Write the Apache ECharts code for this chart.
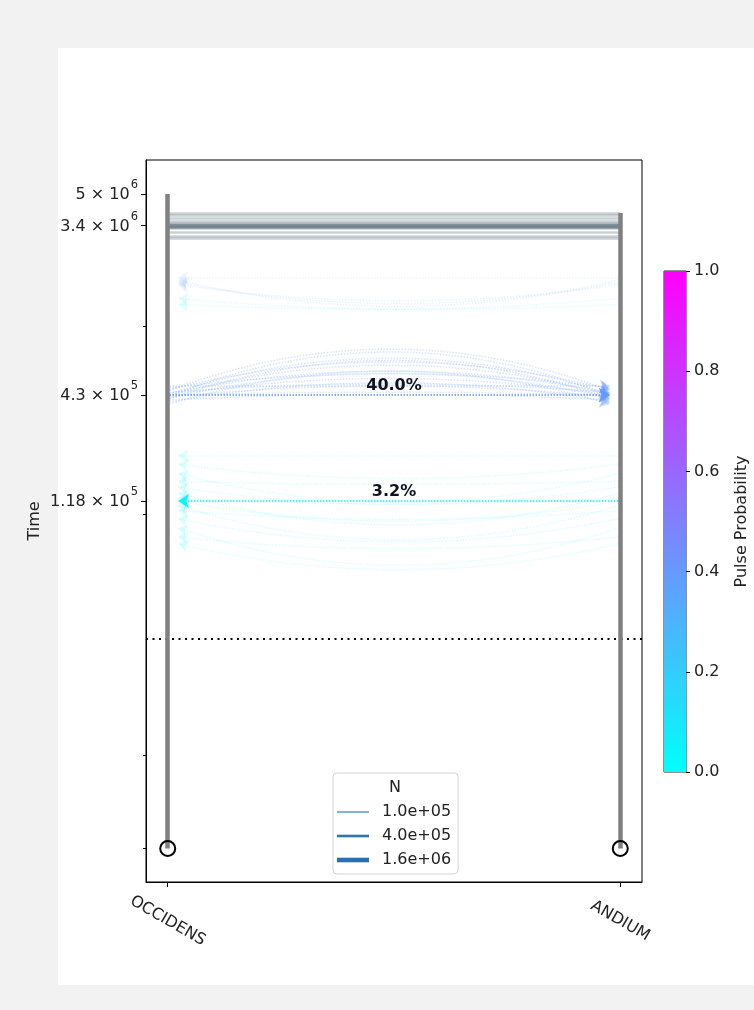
<!DOCTYPE html>
<html><head><meta charset="utf-8">
<script src="https://cdn.jsdelivr.net/npm/echarts@6/dist/echarts.min.js"></script>
<style>
html,body{margin:0;padding:0;background:#f2f2f2;}
#panel{position:absolute;left:58px;top:48px;width:696px;height:937px;background:#ffffff;}
#chart{position:absolute;left:0;top:0;width:754px;height:1010px;}
</style></head><body>
<div id="panel"></div><div id="chart"></div>
<script>
// ---------------- data ----------------
const populations = ['OCCIDENS', 'ANDIUM'];
const popStartTime = [5.0e6, 3.96e6];
const popSampleTime = [1.7e3, 1.7e3];
// posterior samples of the split (ANDIUM branching from OCCIDENS)
const splitTimes = [3.96e6, 3.85e6, 3.7e6, 3.58e6, 3.5e6, 3.45e6, 3.42e6, 3.4e6, 3.38e6, 3.35e6, 3.32e6, 3.28e6, 3.15e6, 3.0e6, 2.92e6];
// summary pulses
const pulseTimes = [4.3e5, 1.18e5];
const pulseProps = [0.400, 0.032];
const pulseSource = [0, 1];
const pulseDest = [1, 0];
// posterior samples of pulses (set A: OCCIDENS -> ANDIUM)
const pulseA_times = [4.8e5, 4.7e5, 4.6e5, 4.55e5, 4.45e5, 4.4e5, 4.35e5, 4.3e5, 4.3e5, 4.28e5, 4.25e5, 4.2e5, 4.15e5, 4.1e5, 4.05e5, 3.95e5, 3.85e5];
const pulseA_props = [0.42, 0.38, 0.44, 0.40, 0.36, 0.41, 0.39, 0.40, 0.43, 0.41, 0.37, 0.45, 0.35, 0.39, 0.40, 0.38, 0.42];
// set B: ANDIUM -> OCCIDENS
const pulseB_times = [2.05e5, 1.85e5, 1.65e5, 1.5e5, 1.4e5, 1.3e5, 1.22e5, 1.18e5, 1.12e5, 1.05e5, 9.5e4, 8.5e4, 7.6e4, 7.0e4];
const pulseB_props = [0.05, 0.08, 0.03, 0.06, 0.10, 0.04, 0.02, 0.03, 0.07, 0.05, 0.09, 0.04, 0.06, 0.03];
// set C: ANDIUM -> OCCIDENS (older)
const pulseC_times = [1.8e6, 1.75e6, 1.7e6, 1.65e6, 1.4e6, 1.3e6];
const pulseC_props = [0.42, 0.36, 0.40, 0.33, 0.12, 0.08];
const markerTime = 2.19e4;
// axis ticks
const yTickTimes = [5e6, 3.4e6, 4.3e5, 1.18e5];
const yTickMantissa = ['5', '3.4', '4.3', '1.18'];
const yTickExponent = ['6', '6', '5', '5'];
const yMinorTickTimes = [1e6, 1e5, 5.3e3, 1.7e3];
const yRangeTimes = [1130, 7.57e6];
const legendTitle = 'N';
const legendSizes = ['1.0e+05', '4.0e+05', '1.6e+06'];
const colorbarTitle = 'Pulse Probability';

// ---------------- build ----------------
const L = Math.log10;
const FONT = 'DejaVu Sans';
const X_MIN = -0.048, X_MAX = 1.048;
const INSET = 0.023;
function cool(p) {
  return 'rgb(' + Math.round(255 * p) + ',' + Math.round(255 * (1 - p)) + ',255)';
}
function pulseItem(src, dst, t, p, curv, opacity, width) {
  const dir = dst > src ? 1 : -1;
  return {
    coords: [[src + dir * 0.004, L(t)], [dst - dir * INSET, L(t)]],
    lineStyle: { color: cool(p), opacity: opacity, curveness: curv, width: width, type: [1.5, 1.5] }
  };
}
const sampleData = [];
function addSet(times, props, src, dst, maxC, opacity) {
  const n = times.length;
  times.forEach(function (t, i) {
    const c = maxC * ((i * 5) % n) / (n - 1);
    sampleData.push(pulseItem(src, dst, t, props[i], c, opacity, 1.5));
  });
}
addSet(pulseA_times, pulseA_props, 0, 1, 0.2, 0.25);
addSet(pulseB_times, pulseB_props, 1, 0, 0.17, 0.15);
addSet(pulseC_times, pulseC_props, 1, 0, 0.12, 0.12);

const mainData = pulseTimes.map(function (t, i) {
  return pulseItem(pulseSource[i], pulseDest[i], t, pulseProps[i], 0, 1, 1.6);
});
const splitData = splitTimes.map(function (t) {
  return { coords: [[0, L(t)], [1, L(t)]] };
});
const popData = populations.map(function (p, i) {
  return { coords: [[i, L(popStartTime[i])], [i, L(popSampleTime[i])]] };
});

const yTickVals = yTickTimes.map(L);
const chart = echarts.init(document.getElementById('chart'));
const legendWidths = [1.2, 2.6, 4.6];

const option = {
  animation: false,
  textStyle: { fontFamily: FONT },
  grid: [
    { left: 146, top: 160, width: 496, height: 722, show: true, borderColor: '#000', borderWidth: 1, backgroundColor: 'transparent' },
    { left: 664, top: 271, width: 22, height: 501, show: true, borderColor: '#222', borderWidth: 1, backgroundColor: 'transparent' }
  ],
  xAxis: [
    {
      type: 'value', gridIndex: 0, min: X_MIN, max: X_MAX,
      axisLine: { show: true, onZero: false, lineStyle: { color: '#000', width: 1 } },
      axisTick: { show: true, customValues: [0, 1], length: 5, lineStyle: { color: '#000' } },
      axisLabel: {
        customValues: [0, 1], formatter: function (v) { return populations[Math.round(v)]; },
        rotate: -30, align: 'center', verticalAlign: 'middle', margin: 39,
        fontSize: 16, fontFamily: FONT, color: '#222'
      },
      splitLine: { show: false }
    },
    { type: 'category', gridIndex: 1, data: ['cb'], show: false }
  ],
  yAxis: [
    {
      type: 'value', gridIndex: 0, min: L(yRangeTimes[0]), max: L(yRangeTimes[1]), position: 'left',
      axisLine: { show: true, onZero: false, lineStyle: { color: '#000', width: 1 } },
      axisTick: { show: true, customValues: yTickVals, length: 5, lineStyle: { color: '#000' } },
      axisLabel: {
        customValues: yTickVals,
        formatter: function (v) {
          for (let i = 0; i < yTickVals.length; i++) {
            if (Math.abs(yTickVals[i] - v) < 1e-6) return '{b|' + yTickMantissa[i] + ' × 10}{s|' + yTickExponent[i] + '}';
          }
          return '';
        },
        rich: {
          b: { fontSize: 16, fontFamily: FONT, color: '#222', lineHeight: 24, verticalAlign: 'bottom' },
          s: { fontSize: 11.5, fontFamily: FONT, color: '#222', lineHeight: 14, verticalAlign: 'top', padding: [0, 0, 0, 1] }
        },
        padding: [0, 0, 6, 0],
        fontSize: 16, fontFamily: FONT, color: '#222', margin: 8
      },
      splitLine: { show: false },
      name: 'Time', nameLocation: 'middle', nameGap: 103, nameMoveOverlap: false,
      nameTextStyle: { fontSize: 16, fontFamily: FONT, color: '#222' }
    },
    {
      type: 'value', gridIndex: 0, min: L(yRangeTimes[0]), max: L(yRangeTimes[1]), position: 'left',
      axisLine: { show: false, onZero: false },
      axisTick: { show: true, customValues: yMinorTickTimes.map(L), length: 3, lineStyle: { color: '#000' } },
      axisLabel: { show: false },
      splitLine: { show: false }
    },
    {
      type: 'value', gridIndex: 1, min: 0, max: 1, interval: 0.2, position: 'right',
      axisLine: { show: false },
      axisTick: { show: true, length: 4, lineStyle: { color: '#000' } },
      axisLabel: { formatter: function (v) { return v.toFixed(1); }, fontSize: 16, fontFamily: FONT, color: '#222', margin: 8 },
      splitLine: { show: false },
      name: colorbarTitle, nameLocation: 'middle', nameGap: 48,
      nameTextStyle: { fontSize: 16, fontFamily: FONT, color: '#222' }
    }
  ],
  legend: {
    orient: 'vertical', left: 333, top: 773,
    padding: [31, 7, 6, 4],
    backgroundColor: 'rgba(255,255,255,0.85)', borderColor: '#d4d4d4', borderWidth: 1, borderRadius: 4,
    itemWidth: 32, itemHeight: 16, itemGap: 8,
    selectedMode: false,
    textStyle: { fontFamily: FONT, fontSize: 16, color: '#222', padding: [0, 0, 0, 8] },
    itemStyle: { borderWidth: 0 },
    data: legendSizes.map(function (n, i) {
      return { name: n, icon: 'path://M0,0h32v' + legendWidths[i] + 'h-32z' };
    })
  },
  graphic: [
    { type: 'text', x: 395, y: 788, z: 100,
      style: { text: legendTitle, font: '16px "DejaVu Sans"', fill: '#222', align: 'center', verticalAlign: 'middle', textAlign: 'center', textVerticalAlign: 'middle' } }
  ],
  series: [
    {
      name: 'pulse samples', type: 'lines', coordinateSystem: 'cartesian2d', xAxisIndex: 0, yAxisIndex: 0,
      symbol: ['none', 'arrow'], symbolSize: 10, z: 2, silent: true,
      data: sampleData
    },
    {
      name: 'splits', type: 'lines', coordinateSystem: 'cartesian2d', xAxisIndex: 0, yAxisIndex: 0,
      z: 3, silent: true,
      lineStyle: { color: '#34485a', width: 2.5, opacity: 0.26, curveness: 0 },
      data: splitData
    },
    {
      name: 'pulses', type: 'lines', coordinateSystem: 'cartesian2d', xAxisIndex: 0, yAxisIndex: 0,
      symbol: ['none', 'arrow'], symbolSize: 11, z: 4, silent: true,
      data: mainData
    },
    {
      name: 'populations', type: 'lines', coordinateSystem: 'cartesian2d', xAxisIndex: 0, yAxisIndex: 0,
      z: 5, silent: true,
      lineStyle: { color: '#808080', width: 4.5, opacity: 1 },
      data: popData,
      markLine: {
        silent: true, symbol: 'none', label: { show: false },
        lineStyle: { color: '#000', width: 2, type: [2, 4.5] },
        data: [{ yAxis: L(markerTime) }]
      }
    },
    {
      name: 'sampling', type: 'scatter', xAxisIndex: 0, yAxisIndex: 0, z: 6, silent: true,
      symbol: 'circle', symbolSize: 15,
      itemStyle: { color: 'rgba(0,0,0,0)', borderColor: '#000', borderWidth: 2, opacity: 1 },
      data: populations.map(function (p, i) { return [i, L(popSampleTime[i])]; })
    },
    {
      name: 'pulse labels', type: 'scatter', xAxisIndex: 0, yAxisIndex: 0, z: 7, silent: true,
      symbolSize: 0,
      itemStyle: { opacity: 1 },
      label: {
        show: true, position: 'inside', offset: [0, -9],
        formatter: function (p) { return (p.value[2] * 100).toFixed(1) + '%'; },
        fontFamily: FONT, fontSize: 16, fontWeight: 'bold', color: '#10131f', opacity: 1
      },
      data: pulseTimes.map(function (t, i) { return [0.5, L(t), pulseProps[i]]; })
    },
    { name: legendSizes[0], type: 'line', xAxisIndex: 0, yAxisIndex: 0, data: [], color: '#3b7fc0' },
    { name: legendSizes[1], type: 'line', xAxisIndex: 0, yAxisIndex: 0, data: [], color: '#2f74b5' },
    { name: legendSizes[2], type: 'line', xAxisIndex: 0, yAxisIndex: 0, data: [], color: '#2a70b0' },
    {
      name: 'colorbar', type: 'bar', xAxisIndex: 1, yAxisIndex: 2, barWidth: '100%', silent: true,
      itemStyle: {
        color: new echarts.graphic.LinearGradient(0, 0, 0, 1, [
          { offset: 0, color: cool(1) }, { offset: 0.5, color: cool(0.5) }, { offset: 1, color: cool(0) }
        ])
      },
      data: [1]
    }
  ]
};
chart.setOption(option);
</script></body></html>
